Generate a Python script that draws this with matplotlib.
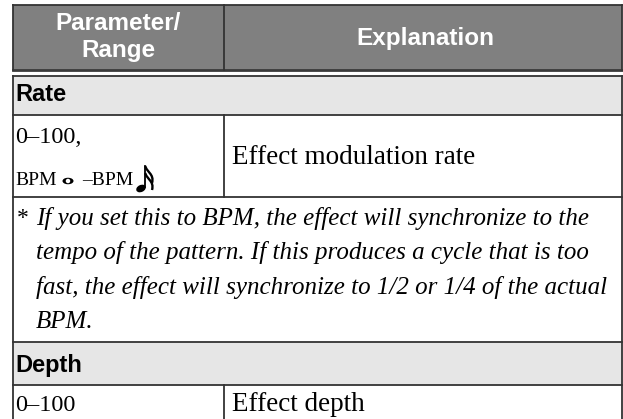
import numpy as np
import matplotlib
matplotlib.use("Agg")
import matplotlib.pyplot as plt
from matplotlib.patches import Rectangle, Ellipse, PathPatch
from matplotlib.path import Path

# table content
HEADERS = ["Parameter/\nRange", "Explanation"]
SECTIONS = ["Rate", "Depth"]
RANGE_1 = "0\u2013100,"
RANGE_1B = ["BPM", "\u2013BPM"]
EXPLAIN_1 = "Effect modulation rate"
NOTE_STAR = "*"
NOTE_LINES = [
    "If you set this to BPM, the effect will synchronize to the",
    "tempo of the pattern. If this produces a cycle that is too",
    "fast, the effect will synchronize to 1/2 or 1/4 of the actual",
    "BPM.",
]
RANGE_2 = "0\u2013100"
EXPLAIN_2 = "Effect depth"

# layout (pixels)
W, H = 623, 419
X_L, X_MID, X_R = 12.5, 223.5, 621.5
Y_TOP, Y_HEAD, Y_RATE0, Y_RATE1 = 5.5, 70.5, 76, 115.5
Y_ROW1, Y_DEPTH0, Y_DEPTH1, Y_BOT = 197, 342, 384.5, 425

HEAD_BG = "#808080"
SEC_BG = "#e6e6e6"
LINE = "#333333"
LW = 1.3

SANS = "Liberation Sans"
SERIF = "Liberation Serif"

fig = plt.figure(figsize=(W / 100, H / 100), dpi=100)
ax = fig.add_axes([0, 0, 1, 1])
ax.set_xlim(0, W)
ax.set_ylim(H, 0)
ax.axis("off")

# backgrounds
ax.add_patch(Rectangle((X_L, Y_TOP), X_R - X_L, Y_HEAD - Y_TOP, facecolor=HEAD_BG, edgecolor="none"))
ax.add_patch(Rectangle((X_L, Y_RATE0), X_R - X_L, Y_RATE1 - Y_RATE0, facecolor=SEC_BG, edgecolor="none"))
ax.add_patch(Rectangle((X_L, Y_DEPTH0), X_R - X_L, Y_DEPTH1 - Y_DEPTH0, facecolor=SEC_BG, edgecolor="none"))

# horizontal rules
for y in [Y_TOP, Y_RATE0, Y_RATE1, Y_ROW1, Y_DEPTH0, Y_DEPTH1]:
    ax.plot([X_L, X_R], [y, y], color=LINE, lw=LW, solid_capstyle="projecting")
ax.plot([X_L, X_R], [Y_HEAD, Y_HEAD], color="#3a3a3a", lw=2.0, solid_capstyle="projecting")

# vertical rules
ax.plot([X_L, X_L], [Y_TOP, Y_HEAD], color=LINE, lw=LW)
ax.plot([X_R, X_R], [Y_TOP, Y_HEAD], color=LINE, lw=LW)
ax.plot([X_L, X_L], [Y_RATE0, Y_BOT], color=LINE, lw=LW)
ax.plot([X_R, X_R], [Y_RATE0, Y_BOT], color=LINE, lw=LW)
ax.plot([X_MID, X_MID], [Y_TOP, Y_HEAD], color=LINE, lw=LW)
ax.plot([X_MID, X_MID], [Y_RATE1, Y_ROW1], color=LINE, lw=LW)
ax.plot([X_MID, X_MID], [Y_DEPTH1, Y_BOT], color=LINE, lw=LW)

# header text
hp = HEADERS[0].split("\n")
ax.text(118, 30.5, hp[0], ha="center", va="baseline", color="white",
        family=SANS, fontweight="bold", fontsize=17.5)
ax.text(118, 57, hp[1], ha="center", va="baseline", color="white",
        family=SANS, fontweight="bold", fontsize=17.5)
ax.text(425, 44.5, HEADERS[1], ha="center", va="baseline", color="white",
        family=SANS, fontweight="bold", fontsize=17.5)

# section labels
ax.text(15, 101, SECTIONS[0], ha="left", va="baseline", color="black",
        family=SANS, fontweight="bold", fontsize=17)
ax.text(15, 372, SECTIONS[1], ha="left", va="baseline", color="black",
        family=SANS, fontweight="bold", fontsize=17)

# rate row
ax.text(15, 143, RANGE_1, ha="left", va="baseline", family=SERIF, fontsize=17.5)
ax.text(15, 185, RANGE_1B[0], ha="left", va="baseline", family=SERIF, fontsize=14)
ax.text(82, 185, RANGE_1B[1], ha="left", va="baseline", family=SERIF, fontsize=14)
ax.text(232, 164, EXPLAIN_1, ha="left", va="baseline", family=SERIF, fontsize=19.5)

# whole note
ax.add_patch(Ellipse((68, 181), 11, 6.5, facecolor="black", edgecolor="none"))
ax.add_patch(Ellipse((68, 181), 4.5, 4.5, angle=-40, facecolor="white", edgecolor="none"))

# sixteenth note
ax.add_patch(Ellipse((141, 188.5), 10, 7, angle=-25, facecolor="black", edgecolor="none"))
ax.plot([145.3, 145.3], [187.5, 166], color="black", lw=1.3)
for y0 in [166, 173]:
    verts = [(145.3, y0), (146.5, y0 + 6), (154.5, y0 + 8), (152, y0 + 17)]
    codes = [Path.MOVETO, Path.CURVE4, Path.CURVE4, Path.CURVE4]
    ax.add_patch(PathPatch(Path(verts, codes), facecolor="none", edgecolor="black", lw=1.7))

# note
ax.text(17, 224, NOTE_STAR, ha="left", va="baseline", family=SERIF, fontsize=17)
for i, line in enumerate(NOTE_LINES):
    ax.text(36, 225 + i * 34.3, line, ha="left", va="baseline", family=SERIF,
            style="italic", fontsize=18)

# depth row
ax.text(15, 411, RANGE_2, ha="left", va="baseline", family=SERIF, fontsize=17.5)
ax.text(232, 411, EXPLAIN_2, ha="left", va="baseline", family=SERIF, fontsize=19.5)

fig.savefig("out.png", dpi=100)
